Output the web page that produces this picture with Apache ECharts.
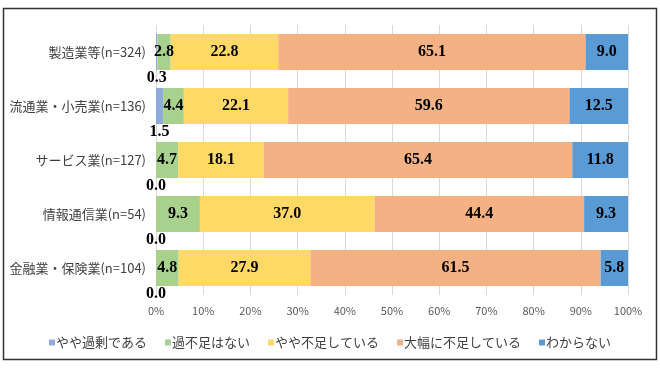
<!DOCTYPE html>
<html>
<head>
<meta charset="utf-8">
<script src="https://cdn.jsdelivr.net/npm/echarts@6/dist/echarts.min.js"></script>
<style>html,body{margin:0;padding:0;background:#fff;}#c{width:660px;height:370px;}</style>
</head>
<body>
<div id="c"></div>
<script>
const categories = ['製造業等(n=324)', '流通業・小売業(n=136)', 'サービス業(n=127)', '情報通信業(n=54)', '金融業・保険業(n=104)'];
const seriesNames = ['やや過剰である', '過不足はない', 'やや不足している', '大幅に不足している', 'わからない'];
const excess = [0.3, 1.5, 0.0, 0.0, 0.0];
const balanced = [2.8, 4.4, 4.7, 9.3, 4.8];
const slightShort = [22.8, 22.1, 18.1, 37.0, 27.9];
const severeShort = [65.1, 59.6, 65.4, 44.4, 61.5];
const unknown = [9.0, 12.5, 11.8, 9.3, 5.8];
const xTicks = [0, 10, 20, 30, 40, 50, 60, 70, 80, 90, 100];
const colors = ['#8FAADC', '#A9D18E', '#FFD966', '#F4B183', '#5B9BD5'];

const values = [excess, balanced, slightShort, severeShort, unknown];
const labelFont = { fontFamily: 'Liberation Serif', fontWeight: 'bold', fontSize: 16, color: '#000' };

const chart = echarts.init(document.getElementById('c'), null, { renderer: 'canvas' });
chart.setOption({
  backgroundColor: '#fff',
  animation: false,
  graphic: [{
    type: 'rect', shape: { x: 3.5, y: 8.5, width: 653, height: 351 },
    style: { fill: 'none', stroke: '#333', lineWidth: 1.5 }, silent: true, z: 100
  }],
  grid: { left: 156, right: 32, top: 25, bottom: 75, containLabel: false },
  legend: {
    data: seriesNames,
    top: 331, left: 'center',
    itemWidth: 6, itemHeight: 6, itemGap: 18,
    icon: 'rect',
    textStyle: { fontFamily: 'Noto Sans CJK JP', fontSize: 13, color: '#404040', padding: [0, 0, 0, -4] }
  },
  xAxis: {
    type: 'value', min: 0, max: 100, interval: 10,
    axisLine: { show: false }, axisTick: { show: false },
    splitLine: { show: true, lineStyle: { color: '#D9D9D9', width: 1 } },
    axisLabel: {
      margin: 10, fontFamily: 'Noto Sans CJK JP', fontSize: 11, color: '#595959',
      formatter: v => (xTicks.includes(v) ? v + '%' : '')
    }
  },
  yAxis: {
    type: 'category', data: categories, inverse: true,
    axisLine: { show: false }, axisTick: { show: false },
    axisLabel: { margin: 10, fontFamily: 'Noto Sans CJK JP', fontSize: 13, color: '#404040' }
  },
  series: seriesNames.map((name, i) => ({
    name: name,
    type: 'bar',
    stack: 'total',
    barWidth: 36,
    data: values[i],
    itemStyle: { color: colors[i] },
    label: Object.assign({
      show: true,
      position: i === 0 ? 'bottom' : 'inside',
      distance: 0,
      formatter: p => Number(p.value).toFixed(1)
    }, labelFont)
  }))
});
</script>
</body>
</html>
